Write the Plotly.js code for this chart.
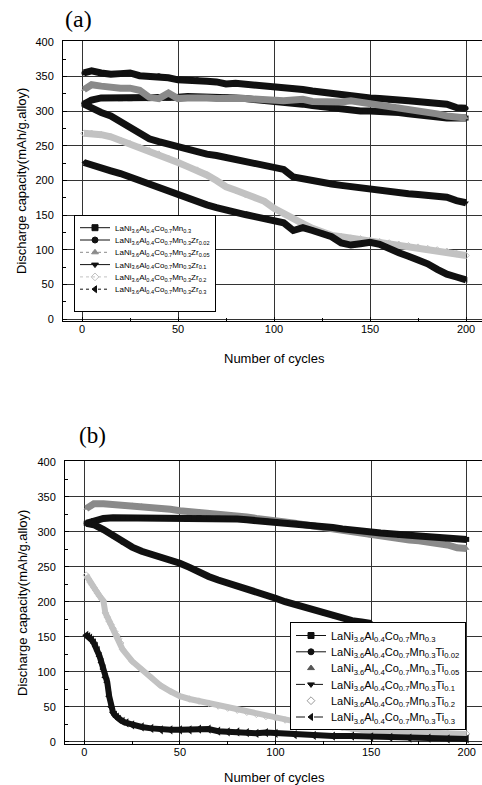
<!DOCTYPE html>
<html>
<head>
<meta charset="utf-8">
<script src="https://cdn.plot.ly/plotly-3.0.1.min.js"></script>
<style>html,body{margin:0;padding:0;background:#fff;}#chart{width:482px;height:785px;}</style>
</head>
<body>
<div id="chart"></div>
<script>
// ---------- Panel (a) data ----------
const cyclesA = [1,5,10,15,20,25,30,35,40,45,50,55,60,65,70,75,80,85,90,95,100,105,110,115,120,125,130,135,140,145,150,155,160,165,170,175,180,185,190,195,200];
const aMn03  = [310,316,319,319,318,318,319,318,319,319,320,321,321,320,320,320,319,318,317,316,314,313,312,310,308,306,305,303,301,300,300,300,300,298,296,294,293,291,290,290,290];
const aZr002 = [355,358,355,353,354,355,351,350,351,348,345,345,345,343,342,339,340,339,337,336,334,333,333,331,329,327,325,324,322,321,319,318,316,316,315,314,313,312,310,305,304];
const aZr005 = [331,338,336,334,333,333,330,320,318,326,318,319,320,319,318,319,318,318,317,316,317,315,316,317,314,313,312,313,315,313,312,310,307,306,303,300,298,296,293,291,290];
const aZr01  = [310,304,298,293,285,276,267,260,256,252,249,245,242,238,236,233,230,227,225,222,219,216,205,202,199,197,195,193,191,190,188,186,185,183,181,180,178,177,176,171,168];
const aZr02  = [268,268,266,263,258,253,248,243,238,232,226,220,215,208,200,191,186,180,175,170,160,152,145,138,131,125,121,119,117,116,114,112,110,108,106,104,102,100,98,95,92];
const aZr03  = [226,222,218,214,210,205,200,195,190,184,178,174,169,165,161,157,154,151,148,145,142,139,128,132,128,124,119,110,107,109,111,108,101,96,91,86,80,72,65,61,57];
const namesA = [
  'LaNi<sub>3.6</sub>Al<sub>0.4</sub>Co<sub>0.7</sub>Mn<sub>0.3</sub>',
  'LaNi<sub>3.6</sub>Al<sub>0.4</sub>Co<sub>0.7</sub>Mn<sub>0.3</sub>Zr<sub>0.02</sub>',
  'LaNi<sub>3.6</sub>Al<sub>0.4</sub>Co<sub>0.7</sub>Mn<sub>0.3</sub>Zr<sub>0.05</sub>',
  'LaNi<sub>3.6</sub>Al<sub>0.4</sub>Co<sub>0.7</sub>Mn<sub>0.3</sub>Zr<sub>0.1</sub>',
  'LaNi<sub>3.6</sub>Al<sub>0.4</sub>Co<sub>0.7</sub>Mn<sub>0.3</sub>Zr<sub>0.2</sub>',
  'LaNi<sub>3.6</sub>Al<sub>0.4</sub>Co<sub>0.7</sub>Mn<sub>0.3</sub>Zr<sub>0.3</sub>'
];

// ---------- Panel (b) data ----------
const cyclesB = [1,5,10,15,20,25,30,35,40,45,50,55,60,65,70,75,80,85,90,95,100,105,110,115,120,125,130,135,140,145,150,155,160,165,170,175,180,185,190,195,200];
const bMn03  = [312,316,319,320,320,320,319,319,319,320,320,320,320,319,319,318,318,317,316,315,314,313,312,310,309,307,306,304,302,301,300,298,297,295,295,294,293,292,290,290,289];
const bTi005 = [333,340,340,339,338,338,337,335,334,332,330,329,328,327,325,324,322,321,319,318,316,314,312,310,308,306,304,301,298,296,294,292,290,289,288,287,285,284,281,277,276];
const cyclesBTi002 = [1,5,10,15,20,25,30,35,40,45,50,55,60,65,70,75,80,85,90,95,100,105,110,115,120,125,130,135,140,145,150];
const bTi002 = [312,310,303,294,285,278,272,268,264,260,255,249,242,236,231,227,222,218,214,210,205,200,196,192,188,184,180,176,173,171,169];
const cyclesBTi02 = [1,2,3,4,5,6,7,8,9,10,11,12,13,14,15,16,17,18,19,20,25,30,35,40,45,50,55,60,65,70,75,80,85,90,95,100,105,110,115,120,125,130,135,140,145,150,160,170,180,190,200];
const bTi02  = [238,233,228,224,220,216,212,208,204,201,184,178,172,167,162,157,152,147,141,132,115,103,92,80,72,65,61,58,55,51,48,45,42,39,36,34,31,29,27,25,23,21,20,18,17,16,15,14,13,12,11];
const cyclesBTi03 = [1,2,3,4,5,6,7,8,9,10,11,12,13,14,15,16,17,18,20,22,25,30,35,40,45,50,55,60,65,70,75,80,85,90,95,100,110,120,130,140,150,160,170,180,190,200];
const bTi03  = [152,150,148,145,141,136,130,122,113,104,92,85,65,50,42,38,35,32,29,27,24,21,19,17,17,17,17,18,18,15,14,14,13,12,13,12,10,9,8,8,7,6,5,5,4,4];
const namesB = [
  'LaNi<sub>3.6</sub>Al<sub>0.4</sub>Co<sub>0.7</sub>Mn<sub>0.3</sub>',
  'LaNi<sub>3.6</sub>Al<sub>0.4</sub>Co<sub>0.7</sub>Mn<sub>0.3</sub>Ti<sub>0.02</sub>',
  'LaNi<sub>3.6</sub>Al<sub>0.4</sub>Co<sub>0.7</sub>Mn<sub>0.3</sub>Ti<sub>0.05</sub>',
  'LaNi<sub>3.6</sub>Al<sub>0.4</sub>Co<sub>0.7</sub>Mn<sub>0.3</sub>Ti<sub>0.1</sub>',
  'LaNi<sub>3.6</sub>Al<sub>0.4</sub>Co<sub>0.7</sub>Mn<sub>0.3</sub>Ti<sub>0.2</sub>',
  'LaNi<sub>3.6</sub>Al<sub>0.4</sub>Co<sub>0.7</sub>Mn<sub>0.3</sub>Ti<sub>0.3</sub>'
];

// ---------- styles ----------
const BLACK = '#111111', GRAY = '#8a8a8a', LIGHT = '#c2c2c2';
const bandW = 7;

function band(x, y, color, sym, xa, ya, w) {
  return {x: x, y: y, xaxis: xa, yaxis: ya, type: 'scatter', mode: 'lines+markers',
    line: {color: color, width: w || bandW}, marker: {symbol: sym, size: 5, color: color},
    showlegend: false, hoverinfo: 'skip'};
}
function legItem(name, color, sym, dash, mode, xa, ya, leg) {
  return {x: [null], y: [null], xaxis: xa, yaxis: ya, type: 'scatter', name: name, legend: leg,
    mode: mode, line: {color: color, width: 1, dash: dash},
    marker: {symbol: sym, size: 6, color: color, line: {color: color, width: 1}}, showlegend: true};
}

const traces = [
  band(cyclesA, aMn03, BLACK, 'square', 'x', 'y'),
  band(cyclesA, aZr002, BLACK, 'circle', 'x', 'y'),
  band(cyclesA, aZr005, GRAY, 'triangle-up', 'x', 'y'),
  band(cyclesA, aZr01, BLACK, 'triangle-down', 'x', 'y'),
  band(cyclesA, aZr02, LIGHT, 'diamond-open', 'x', 'y'),
  band(cyclesA, aZr03, BLACK, 'triangle-left', 'x', 'y'),
  legItem(namesA[0], BLACK, 'square', 'solid', 'lines+markers', 'x', 'y', 'legend'),
  legItem(namesA[1], BLACK, 'circle', 'solid', 'lines+markers', 'x', 'y', 'legend'),
  legItem(namesA[2], GRAY, 'triangle-up', 'dot', 'lines+markers', 'x', 'y', 'legend'),
  legItem(namesA[3], BLACK, 'triangle-down', 'solid', 'lines+markers', 'x', 'y', 'legend'),
  legItem(namesA[4], LIGHT, 'diamond-open', 'dot', 'lines+markers', 'x', 'y', 'legend'),
  legItem(namesA[5], BLACK, 'triangle-left', 'dot', 'lines+markers', 'x', 'y', 'legend'),

  band(cyclesB, bTi005, GRAY, 'triangle-up', 'x2', 'y2'),
  band(cyclesB, bMn03, BLACK, 'square', 'x2', 'y2'),
  band(cyclesBTi002, bTi002, BLACK, 'circle', 'x2', 'y2'),
  band(cyclesBTi02, bTi02, LIGHT, 'diamond-open', 'x2', 'y2', 6),
  {x: cyclesBTi03, y: bTi03, xaxis: 'x2', yaxis: 'y2', type: 'scatter', mode: 'lines+markers',
   line: {color: BLACK, width: 6}, marker: {symbol: 'triangle-left', size: 8, color: BLACK},
   showlegend: false, hoverinfo: 'skip'},
  legItem(namesB[0], BLACK, 'square', 'solid', 'lines+markers', 'x2', 'y2', 'legend2'),
  legItem(namesB[1], BLACK, 'circle', 'solid', 'lines+markers', 'x2', 'y2', 'legend2'),
  legItem(namesB[2], '#555555', 'triangle-up', 'dot', 'markers', 'x2', 'y2', 'legend2'),
  legItem(namesB[3], BLACK, 'triangle-down', 'dashdot', 'lines+markers', 'x2', 'y2', 'legend2'),
  legItem(namesB[4], '#9a9a9a', 'diamond-open', 'dot', 'markers', 'x2', 'y2', 'legend2'),
  legItem(namesB[5], BLACK, 'triangle-left', 'dash', 'lines+markers', 'x2', 'y2', 'legend2')
];

const FONT = 'Liberation Sans, Arial, sans-serif';
const H = 785, W = 482;
function axX(domain, range) {
  return {domain: domain, range: range, tickvals: [0,50,100,150,200], ticks: 'inside', ticklen: 4,
    tickcolor: '#000', showline: true, linecolor: '#000', linewidth: 1, mirror: true,
    showgrid: true, gridcolor: '#333', gridwidth: 1, zeroline: false, ticklabelstandoff: -2,
    minor: {tickvals: [25,75,125,175], ticks: 'inside', ticklen: 3, tickcolor: '#000', showgrid: false},
    tickfont: {family: FONT, size: 11, color: '#000'}, fixedrange: true};
}
function axY(domain, range, anchor) {
  return {domain: domain, range: range, anchor: anchor, tickvals: [0,50,100,150,200,250,300,350,400],
    ticks: 'inside', ticklen: 4, tickcolor: '#000', showline: true, linecolor: '#000', linewidth: 1, mirror: true,
    showgrid: true, gridcolor: '#333', gridwidth: 1, zeroline: false, ticklabelstandoff: 6,
    minor: {tickvals: [25,75,125,175,225,275,325,375], ticks: 'inside', ticklen: 3, tickcolor: '#000', showgrid: false},
    tickfont: {family: FONT, size: 11, color: '#000'}, fixedrange: true};
}
const xa = axX([63/W, 1], [-9.9, 208.3]); xa.anchor = 'y';
const xb = axX([65/W, 1], [-10.1, 208.0]); xb.anchor = 'y2';
const legA = {top: 215, height: 97, first: 12.7, step: 12.3};
const legB = {top: 622, height: 108, first: 13.5, step: 16.3};
const layout = {
  width: W, height: H, margin: {l: 0, r: 0, t: 0, b: 0},
  paper_bgcolor: '#fff', plot_bgcolor: '#fff',
  font: {family: FONT, color: '#000'},
  xaxis: xa,
  yaxis: axY([1 - 321/H, 1 - 41/H], [-2.4, 401], 'x'),
  xaxis2: xb,
  yaxis2: axY([1 - 744/H, 1 - 461/H], [-3.3, 401], 'x2'),
  legend: {x: 74/W, y: 1 - legA.top/H, xanchor: 'left', yanchor: 'top', bgcolor: '#fff',
    bordercolor: '#000', borderwidth: 1, font: {family: FONT, size: 8, color: '#000'},
    tracegroupgap: 0, itemwidth: 30},
  legend2: {x: 290/W, y: 1 - legB.top/H, xanchor: 'left', yanchor: 'top', bgcolor: '#fff',
    bordercolor: '#000', borderwidth: 1, font: {family: FONT, size: 11, color: '#000'},
    tracegroupgap: 0, itemwidth: 30},
  annotations: [
    {text: '(a)', xref: 'paper', yref: 'paper', x: 78/W, y: 1 - 19/H, showarrow: false,
     xanchor: 'center', yanchor: 'middle', font: {family: 'Liberation Serif, Times New Roman, serif', size: 24, color: '#000'}},
    {text: '(b)', xref: 'paper', yref: 'paper', x: 92/W, y: 1 - 435/H, showarrow: false,
     xanchor: 'center', yanchor: 'middle', font: {family: 'Liberation Serif, Times New Roman, serif', size: 23, color: '#000'}},
    {text: 'Discharge capacity(mAh/g.alloy)', xref: 'paper', yref: 'paper', x: 22/W, y: 1 - 181/H,
     textangle: -90, showarrow: false, xanchor: 'center', yanchor: 'middle', font: {family: FONT, size: 13, color: '#000'}},
    {text: 'Discharge capacity(mAh/g.alloy)', xref: 'paper', yref: 'paper', x: 22/W, y: 1 - 603/H,
     textangle: -90, showarrow: false, xanchor: 'center', yanchor: 'middle', font: {family: FONT, size: 13, color: '#000'}},
    {text: 'Number of cycles', xref: 'paper', yref: 'paper', x: 274/W, y: 1 - 358/H, showarrow: false,
     xanchor: 'center', yanchor: 'middle', font: {family: FONT, size: 13, color: '#000'}},
    {text: 'Number of cycles', xref: 'paper', yref: 'paper', x: 274/W, y: 1 - 777/H, showarrow: false,
     xanchor: 'center', yanchor: 'middle', font: {family: FONT, size: 13, color: '#000'}}
  ]
};

// Compact the legend rows to match the tighter spacing of the original figure.
function compactLegend(legendEl, spec) {
  if (!legendEl) return;
  legendEl.querySelectorAll('g.groups').forEach(function(g) { g.setAttribute('transform', 'translate(0,0)'); });
  legendEl.querySelectorAll('g.traces').forEach(function(it, i) {
    const tr = it.getAttribute('transform') || '';
    const m = /translate\(\s*([-\d.e]+)[ ,]+([-\d.e]+)\s*\)/.exec(tr);
    const x = m ? parseFloat(m[1]) : 1;
    it.setAttribute('transform', 'translate(' + x + ',' + (spec.first + i * spec.step) + ')');
  });
  legendEl.querySelectorAll('rect.bg').forEach(function(bg) {
    bg.setAttribute('y', 0.5);
    bg.setAttribute('height', spec.height - 1);
    bg.style.height = (spec.height - 1) + 'px';
  });
  const sb = legendEl.querySelector('g.scrollbox');
  if (sb) sb.removeAttribute('clip-path');
}

function fixLegends(gd) {
  const legs = gd.querySelectorAll('g.legend, g.legend2');
  legs.forEach(function(l) {
    const t = (l.getAttribute('transform') || '');
    const m = /translate\(\s*([-\d.e]+)[ ,]+([-\d.e]+)/.exec(t);
    const ty = m ? parseFloat(m[2]) : 0;
    compactLegend(l, ty < 400 ? legA : legB);
  });
}

Plotly.newPlot('chart', traces, layout, {staticPlot: true, displayModeBar: false}).then(function(gd) {
  fixLegends(gd);
  setTimeout(function() { fixLegends(gd); }, 50);
});
</script>
</body>
</html>
